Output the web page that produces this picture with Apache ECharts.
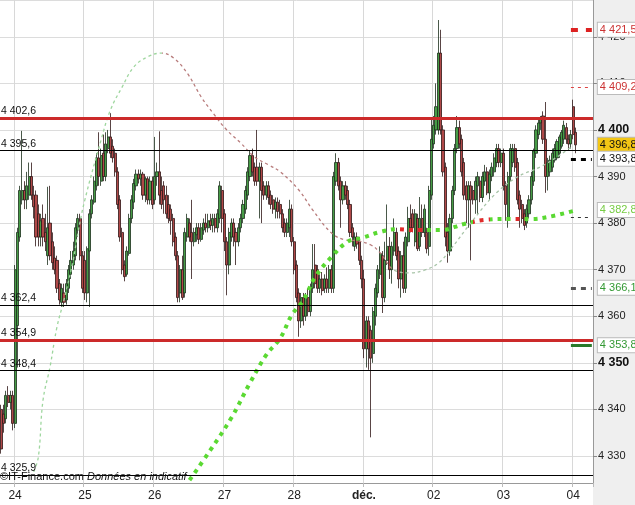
<!DOCTYPE html>
<html><head><meta charset="utf-8">
<script src="https://cdn.jsdelivr.net/npm/echarts@6/dist/echarts.min.js"></script>
<style>html,body{margin:0;padding:0;background:#fff}#c{width:635px;height:505px}</style>
</head><body><div id="c"></div>
<script>
// ---------- DATA ----------
const dayLabels = ['21','24','25','26','27','28','déc.','02','03','04'];
const daySlots  = [6,30,30,30,30,30,30,30,30,9];
// candles: [open, close, low, high]
const d21 = [[4340,4331.5,4330.5,4341],[4339,4337,4335,4341],[4338,4343,4337,4344],[4343,4341.5,4340.5,4345],[4341.5,4343,4340,4344],[4343,4337,4335.5,4344]];
const d24 = [[4337,4370,4336,4371],[4358,4378,4349,4379],[4377,4387,4376,4388],[4385,4387,4384,4399.8],[4387,4385,4383,4389],[4385,4388,4383,4391],[4386,4390,4385,4393],[4390,4386,4385,4393],[4386,4383.5,4381,4388],[4386,4377,4375,4387],[4382,4377,4375,4384],[4377,4380.5,4375,4382],[4381,4377,4375,4384],[4378,4376,4374,4382],[4373,4379,4371,4387.8],[4380,4373,4372,4388],[4376,4371.5,4370,4378],[4372.5,4370,4369,4375],[4372,4366,4365,4373],[4367,4363.5,4362.5,4368],[4363,4366,4362,4367],[4365,4363,4362,4367],[4363.5,4367,4362.5,4368],[4366,4370,4365,4371],[4369,4372,4368,4374],[4371,4374,4370,4376],[4373,4379,4372,4380],[4378.5,4381,4377,4382],[4381,4373,4372,4382],[4373,4366,4365,4374]];
const d25 = [[4372,4365,4363.5,4374],[4365,4374.5,4363,4375],[4374,4382,4362,4383],[4382,4385,4381,4386],[4384.5,4389,4384,4390],[4388,4394,4387,4395],[4394,4390,4388,4399.5],[4389,4394.5,4388,4396],[4395,4390,4389,4399],[4390,4397,4389,4399.5],[4396,4398.5,4395,4400],[4398.5,4395,4394,4403.6],[4396.5,4394,4393,4398],[4395,4391,4390,4396],[4391,4384,4383,4392],[4385,4377,4376,4386],[4378,4370,4369,4379],[4371,4368.5,4367.5,4372],[4369,4374,4368.5,4375],[4373.5,4381,4373,4382],[4381,4385,4380,4386],[4384.5,4388.5,4383,4389.5],[4388,4390.5,4387,4391.5],[4390.5,4389.5,4388.5,4391.5],[4389.5,4390.5,4388,4391.5],[4390.5,4386,4385,4391],[4386,4389.5,4384.5,4390],[4389.5,4385,4384,4390],[4385,4389,4384,4390],[4389,4384,4383,4390]];
const d26 = [[4385,4390,4384,4398.5],[4390,4391,4388,4393],[4391,4386,4384,4399.7],[4387,4384,4383,4390],[4388,4385,4382,4389],[4386,4382,4381,4388],[4384,4381,4380,4386],[4383,4380.5,4377.5,4384],[4381,4376,4375,4382],[4377,4373,4372,4378],[4373,4364,4363,4374],[4365,4370,4363,4371],[4370,4364,4363.5,4373],[4365,4378,4364,4379],[4377,4381,4376,4382],[4380,4377,4376,4381],[4378,4376,4368,4385],[4376,4378,4375,4379],[4377.5,4379,4376,4380],[4379,4376.5,4375.5,4380],[4376.5,4379,4376,4380],[4378.5,4380,4377.5,4381],[4380,4379,4378,4382],[4379,4380.5,4378,4382],[4380.5,4379.5,4378.5,4382],[4379.5,4381,4378,4382],[4381,4379,4378,4382],[4379,4382,4378,4383],[4381,4388,4380,4389],[4387,4381,4378,4388]];
const d27 = [[4382,4376,4374,4383],[4376,4371,4364.5,4377],[4371,4378,4369,4379],[4377,4380,4376,4381],[4380,4377,4375,4381],[4378,4376,4371,4379],[4376,4379,4375,4380],[4379,4381,4378,4382],[4381,4384,4380,4385],[4383,4387,4382,4388],[4386,4391,4385,4392],[4390,4394.5,4389,4395.5],[4394.5,4391,4390,4396],[4392,4389,4388,4393],[4392,4389,4388,4400],[4389,4392,4381,4393],[4392,4387,4380,4393],[4388,4386,4385,4389],[4386,4388,4385,4389],[4388,4385.5,4384,4389],[4386,4384,4383,4387],[4385,4383,4382,4386],[4383,4384.5,4381,4385.5],[4384.5,4382.5,4381,4385.5],[4384,4382,4381,4385],[4382,4379,4378,4383],[4380,4378,4377,4381],[4378,4380,4377,4381],[4379,4383,4377,4385],[4383,4376,4375,4384]];
const d28 = [[4376,4370,4369,4377],[4371,4364,4363,4372],[4365,4359,4355.6,4366],[4359,4364,4357.5,4365],[4364,4360,4358,4365],[4360,4364,4359,4365],[4364,4361,4360,4366],[4361,4366,4360,4367],[4366,4370,4365,4375.5],[4371,4367,4366,4375.5],[4370,4366,4365,4371],[4366,4368,4365,4369],[4368,4365.5,4364.5,4369.5],[4366,4368,4365,4369],[4368,4366,4365,4370.5],[4366,4370,4365,4371],[4370,4366,4365,4371],[4366,4390,4365,4391],[4389,4393,4388,4395],[4393,4388,4387,4394],[4389,4385,4379,4390],[4385,4388,4384,4389],[4388,4386,4385,4389],[4387,4384,4383,4388],[4384,4378,4377,4385],[4379,4377,4375,4380],[4375,4377,4374,4378],[4377,4375.5,4374.5,4378],[4376,4372,4371,4377],[4372,4368,4366,4373]];
const d01 = [[4368,4353,4351,4370],[4353,4359,4349,4360],[4359,4353,4348.5,4360],[4357,4351,4334,4358],[4352,4361,4350,4362],[4360,4366,4358,4367],[4365,4370,4364,4371],[4369,4373.5,4368,4375],[4373,4364,4360.7,4374],[4364,4372,4363,4376],[4372,4375,4371,4384],[4375,4370,4368,4377],[4370,4375,4367,4376],[4374,4378,4373,4381],[4378,4373,4372,4379],[4374,4368,4366,4375],[4368,4373,4364,4374],[4373,4366,4365,4376],[4366,4377,4365,4378],[4376,4381,4375,4383.5],[4381,4379,4378,4384],[4382,4379,4378,4383],[4376,4382,4375,4383],[4381,4374.5,4374,4382],[4375,4381,4374,4385.6],[4381,4378,4377,4384],[4378,4383,4377,4384],[4378,4374.5,4373.5,4379],[4375,4387,4373,4388],[4386,4398,4385,4402.6]];
const d02 = [[4397,4401,4396,4403],[4400,4405,4399,4410],[4400,4416.5,4399,4423.6],[4416.5,4400,4399,4421.5],[4400,4391,4390,4401],[4392,4377,4375,4393],[4378,4374,4371.5,4380],[4374,4381,4373,4382],[4381,4387,4380,4388],[4387,4396,4386,4397],[4396,4400.5,4395,4403],[4400.5,4397,4396,4402],[4398,4391,4390,4399],[4393,4386,4385,4394],[4388,4385,4380,4389],[4385,4388,4379,4389],[4388,4385,4372,4389],[4387,4385,4384,4388],[4385,4389,4382,4390],[4388,4390,4382,4391],[4389,4385.5,4384.5,4390],[4385.5,4390,4384.5,4391],[4389,4391,4388,4392.5],[4391,4386.5,4386,4392],[4386.5,4390.5,4385,4391.5],[4390,4392,4389,4393],[4391,4394,4390,4395],[4393,4396,4392,4397],[4396,4393,4392,4397],[4393,4395,4392,4396]];
const d03 = [[4395,4388,4387,4396],[4388,4384,4380.5,4389],[4381,4390,4379,4391],[4390,4396,4389,4397],[4393,4396,4392,4397],[4396,4392,4391,4397],[4393,4385,4384,4394],[4386,4383,4379,4387],[4384,4381,4380,4385],[4382,4379.5,4378.5,4383],[4380,4383,4379,4384],[4382,4385,4381,4386],[4385,4390,4384,4391],[4389,4395.5,4388,4396],[4395,4400,4394,4401],[4399,4401.5,4398,4402.6],[4401.5,4402.5,4400,4403],[4403,4398,4397,4404],[4398,4390,4386.5,4406],[4390,4393,4387,4394],[4391,4393.5,4390,4394.5],[4392,4395,4391,4396],[4393.5,4396,4393,4397],[4394,4397.5,4393.5,4398],[4395,4398.5,4394,4399],[4396.5,4399.5,4396,4400],[4398,4401,4397,4402],[4400.5,4398,4397,4401.5],[4398,4397,4395.5,4399],[4397,4399,4396,4400]];
const d04 = [[4405,4399,4398,4406.5],[4399.5,4396.8,4395,4400.5]];
const dayCandles = [d21,d24,d25,d26,d27,d28,d01,d02,d03,d04];

// thin dashed envelope curve: [slot index, value]
const envCurve = [[14,4326.6],[16,4329.8],[18,4342.0],[21,4349.1],[24,4357.7],[27,4363.5],[31,4372.1],[33,4377.9],[36,4385.0],[43,4397.9],[47,4404.3],[52,4409.2],[57,4413.5],[63,4415.7],[69,4416.5],[74,4415.5],[80,4412.2],[86,4407.1],[91,4403.7],[97,4400.0],[103,4397.2],[109,4394.2],[115,4392.5],[120,4391.0],[128,4387.1],[134,4382.8],[142,4377.9],[148,4376.4],[153,4376.2],[159,4375.3],[163,4373.6],[169,4369.9],[176,4369.3],[182,4369.9],[188,4371.4],[193,4374.2],[203,4380.7],[213,4386.5],[222,4389.9],[232,4392.1],[239,4394.2],[245,4396.3]];
// thick dotted average curve
const avgCurve = [[81,4324.8],[90,4331.3],[99,4338.2],[107,4345.7],[114,4351.7],[120,4355.3],[125,4360.3],[130,4363.5],[135,4368.4],[142,4372.7],[149,4376.0],[155,4376.8],[163,4378.1],[170,4378.7],[177,4378.5],[189,4378.5],[199,4379.8],[208,4380.7],[219,4380.9],[228,4380.9],[235,4381.3],[246,4382.6]];
const avgRedRanges = [[169.6,182.5],[202.6,209.5],[220.6,223.6]];

const redLevels   = [4402.6, 4354.9];
const blackLevels = [4395.6, 4362.4, 4348.4, 4325.9];
const rightLevels = [4421.5, 4409.2, 4396.8, 4393.8, 4381.3, 4382.8, 4366.1, 4353.8];

// ---------- BUILD ----------
const cats = [], candles = [];
dayLabels.forEach((lab, d) => {
  for (let k = 0; k < daySlots[d]; k++) {
    cats.push(lab + '|' + k);
    const c = dayCandles[d][k];
    candles.push(c ? c : '-');
  }
});
const isDayStart = (i, v) => { const p = String(v).split('|'); return p[1] === '0' && p[0] !== '21'; };
const fmt = (v, dec) => { const s = v.toFixed(dec).replace('.', ','); const [a, b] = s.split(','); const ai = a.length > 3 ? a.slice(0, a.length - 3) + ' ' + a.slice(-3) : a; return b !== undefined ? ai + ',' + b : ai; };
const FONT = 'Liberation Sans, Arial, sans-serif';
const CLEAR = 'rgba(0,0,0,0)';

const levelLines = [];
redLevels.forEach(v => levelLines.push({ yAxis: v, lineStyle: { color: '#cc2a2a', width: 3, type: 'solid' } }));
blackLevels.forEach(v => levelLines.push({ yAxis: v, lineStyle: { color: '#000', width: 1, type: 'solid' } }));
levelLines.forEach(o => o.label = { show: true, formatter: fmt(o.yAxis, 1), position: 'insideStartTop', distance: [1, 1], color: '#111', fontSize: 10.5, fontFamily: FONT });

const rs = {
  4421.5: { line: { color: '#d22', width: 4, type: [7, 8] }, txt: '#cc3333', bg: '#fff' },
  4409.2: { line: { color: '#d44', width: 1, type: [3, 4] }, txt: '#cc3333', bg: '#fff' },
  4396.8: { line: { color: CLEAR, width: 1 }, txt: '#111', bg: '#f3c614' },
  4393.8: { line: { color: '#000', width: 3, type: [5, 5] }, txt: '#111', bg: '#fff' },
  4381.3: { line: { color: '#333', width: 1, type: [3, 4] }, txt: null },
  4382.8: { line: { color: CLEAR, width: 1 }, txt: '#77cc44', bg: '#fff' },
  4366.1: { line: { color: '#555', width: 3, type: [5, 5] }, txt: '#339933', bg: '#fff' },
  4353.8: { line: { color: '#2a7a2a', width: 3, type: 'solid' }, txt: '#339933', bg: '#fff' }
};
const rightLines = rightLevels.map(v => {
  const s = rs[v];
  return [{ coord: [245, v], lineStyle: s.line,
    label: s.txt ? { show: true, position: 'end', distance: 6, formatter: fmt(v, 1), color: s.txt, backgroundColor: s.bg, borderColor: '#bbb', borderWidth: 1, padding: [2, 3, 1, 2], fontSize: 11, fontFamily: FONT } : { show: false } },
    { coord: [254, v] }];
});

const chart = echarts.init(document.getElementById('c'));
chart.setOption({
  animation: false,
  backgroundColor: '#fff',
  grid: { left: -1, right: 42, top: 0, bottom: 22, show: false },
  xAxis: {
    type: 'category', data: cats, boundaryGap: true,
    axisLine: { lineStyle: { color: '#999' } },
    axisTick: { show: true, interval: isDayStart, length: 4, lineStyle: { color: '#bbb' } },
    axisLabel: { interval: isDayStart, margin: 7, fontSize: 12, color: '#222', fontFamily: FONT,
      formatter: v => { const l = v.split('|')[0]; return l === 'déc.' ? '{b|déc.}' : l; },
      rich: { b: { fontWeight: 'bold', fontSize: 12, color: '#222', fontFamily: FONT } } },
    splitLine: { show: true, interval: isDayStart, lineStyle: { color: '#d8d8d8' } }
  },
  yAxis: {
    type: 'value', position: 'right', min: 4324.2, max: 4427.9, splitNumber: 10, minInterval: 10, maxInterval: 10, scale: true,
    axisLine: { show: true, lineStyle: { color: '#999' } },
    axisTick: { show: true, length: 4, lineStyle: { color: '#888' } },
    splitLine: { show: true, lineStyle: { color: '#dcdcdc' } },
    axisLabel: { showMinLabel: false, showMaxLabel: false, margin: 5, fontSize: 11, color: '#222', fontFamily: FONT,
      formatter: v => { const r = Math.round(v); const t = fmt(r, 0); return r % 50 === 0 ? '{b|' + t + '}' : t; },
      rich: { b: { fontWeight: 'bold', fontSize: 12.5, color: '#111', fontFamily: FONT } } }
  },
  visualMap: [
    { type: 'piecewise', show: false, seriesIndex: 1, dimension: 0,
      pieces: [{ lt: 69, color: '#9ed69e' }, { gte: 69, lt: 168, color: '#b87c7c' }, { gte: 168, color: '#a7c4a7' }] },
    { type: 'piecewise', show: false, seriesIndex: 2, dimension: 0,
      pieces: avgRedRanges.map(r => ({ gte: r[0], lte: r[1], color: '#e02a2a' })), outOfRange: { color: '#5ad932' } }
  ],
  series: [
    { type: 'candlestick', data: candles, barWidth: 2.6, z: 2,
      itemStyle: { color: '#469c46', color0: '#b04848', borderColor: '#1c2e1c', borderColor0: '#2e1515', borderWidth: 0.8 },
      markLine: { silent: true, symbol: ['none', 'none'], data: levelLines, animation: false } },
    { type: 'line', data: envCurve, smooth: 0.4, showSymbol: false, z: 3, silent: true,
      lineStyle: { width: 1.3, type: [3, 3] } },
    { type: 'line', data: avgCurve, smooth: 0.4, showSymbol: false, z: 4, silent: true,
      lineStyle: { width: 4, type: [4, 5] } },
    { type: 'line', data: [], clip: false, z: 5, silent: true,
      markLine: { silent: true, symbol: ['none', 'none'], data: rightLines, animation: false } }
  ],
  graphic: [
    { type: 'rect', right: 0, top: 0, z: -10, shape: { width: 42, height: 505 }, style: { fill: '#efefef' } },
    { type: 'text', left: 0, top: 471, z: 10, style: { text: '©IT-Finance.com', font: '11px ' + FONT, fill: '#111' } },
    { type: 'text', left: 87, top: 471, z: 10, style: { text: 'Données en indicatif', font: 'italic 11px ' + FONT, fill: '#111' } }
  ]
});
</script></body></html>
